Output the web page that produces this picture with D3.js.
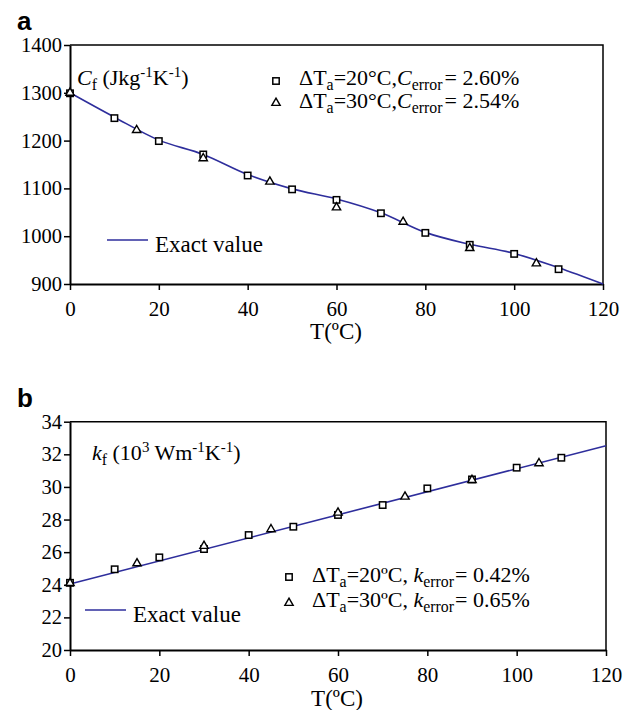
<!DOCTYPE html>
<html><head><meta charset="utf-8">
<script src="https://cdn.jsdelivr.net/npm/d3@7"></script>
<style>body{margin:0;background:#fff}svg{display:block}</style>
</head><body>
<script>
// ---------- data ----------
const xTicks = [0, 20, 40, 60, 80, 100, 120];
const cfTicks = [900, 1000, 1100, 1200, 1300, 1400];
const kfTicks = [20, 22, 24, 26, 28, 30, 32, 34];

// panel a : specific heat
const exactTA = [0, 10, 20, 30, 40, 50, 60, 70, 80, 90, 100, 110, 120];
const exactCf = [1300, 1249, 1201, 1171, 1129, 1099, 1078, 1049, 1008, 983, 964, 934, 900];
const sqTA = [0, 10, 20, 30, 40, 50, 60, 70, 80, 90, 100, 110];
const sqCf = [1299, 1247, 1199, 1171, 1127, 1098, 1076, 1048, 1007, 982, 963, 931];
const triTA = [0, 15, 30, 45, 60, 75, 90, 105];
const triCf = [1300, 1222, 1163, 1114, 1060, 1030, 975, 943];

// panel b : thermal conductivity
const exactTB = [0, 120];
const exactKf = [24.05, 32.53];
const sqTB = [0, 10, 20, 30, 40, 50, 60, 70, 80, 90, 100, 110];
const sqKf = [24.12, 24.95, 25.68, 26.19, 27.05, 27.56, 28.28, 28.89, 29.91, 30.46, 31.18, 31.79];
const triTB = [0, 15, 30, 45, 60, 75, 90, 105];
const triKf = [24.1, 25.31, 26.38, 27.4, 28.42, 29.4, 30.42, 31.45];

// ---------- drawing ----------
const W = 639, H = 710;
const SERIF = "'Liberation Serif','Times New Roman',serif";
const LINE = "#2e2e9c";
const svg = d3.select("body").append("svg").attr("width", W).attr("height", H);

function panel(o) {
  const x = d3.scaleLinear().domain([0, 120]).range([o.left, o.right]);
  const y = d3.scaleLinear().domain(o.ydom).range([o.bottom, o.top]);
  const g = svg.append("g");

  g.append("path").attr("d", `M${o.left},${o.top}H${o.right}V${o.bottom}`)
    .attr("fill", "none").attr("stroke", "#000").attr("stroke-width", 1.5);

  const ax = g.append("g").attr("transform", `translate(0,${o.bottom})`)
    .call(d3.axisBottom(x).tickValues(xTicks).tickFormat(d3.format("d"))
      .tickSize(6).tickSizeOuter(0).tickPadding(6));
  const ay = g.append("g").attr("transform", `translate(${o.left},0)`)
    .call(d3.axisLeft(y).tickValues(o.yticks).tickFormat(d3.format("d"))
      .tickSize(6).tickSizeOuter(0).tickPadding(2));
  ax.attr("font-family", SERIF).attr("font-size", 21);
  ay.attr("font-family", SERIF).attr("font-size", 20.5);
  [ax, ay].forEach(a => {
    a.select(".domain").attr("stroke-width", 2);
    a.selectAll(".tick line").attr("stroke-width", 1.5);
    a.selectAll("text").attr("fill", "#000");
  });
  ax.selectAll("text").attr("dy", "0.95em");

  const line = d3.line().x(d => x(d[0])).y(d => y(d[1])).curve(d3.curveMonotoneX);
  g.append("path").datum(d3.zip(o.ex, o.ey)).attr("d", line)
    .attr("fill", "none").attr("stroke", LINE).attr("stroke-width", 1.6);

  g.selectAll(".sq").data(d3.zip(o.sx, o.sy)).join("rect")
    .attr("x", d => x(d[0]) - 3.2).attr("y", d => y(d[1]) - 3.2)
    .attr("width", 6.4).attr("height", 6.4)
    .attr("fill", "#fff").attr("stroke", "#000").attr("stroke-width", 1.5);
  const tri = d3.symbol().type(d3.symbolTriangle).size(30);
  g.selectAll(".tr").data(d3.zip(o.tx, o.ty)).join("path")
    .attr("d", tri).attr("transform", d => `translate(${x(d[0])},${y(d[1])})`)
    .attr("fill", "#fff").attr("stroke", "#000").attr("stroke-width", 1.4);

  g.append("text").attr("x", o.titleX).attr("y", o.titleY).attr("text-anchor", "middle")
    .attr("font-family", SERIF).attr("font-size", 23).text("T(ºC)");

  g.append("text").attr("x", 17).attr("y", o.letterY)
    .attr("font-family", "'Liberation Sans',Arial,sans-serif").attr("font-weight", "bold")
    .attr("font-size", 26).text(o.letter);

  g.append("line").attr("x1", o.exLeg[0]).attr("x2", o.exLeg[0] + 41)
    .attr("y1", o.exLeg[1]).attr("y2", o.exLeg[1]).attr("stroke", LINE).attr("stroke-width", 1.6);
  g.append("text").attr("x", o.exLeg[0] + 48).attr("y", o.exLeg[1] + 12)
    .attr("font-family", SERIF).attr("font-size", 23).text("Exact value");

  g.append("rect").attr("x", o.mkX - 3.2).attr("y", o.mkY[0] - 3.2).attr("width", 6.4).attr("height", 6.4)
    .attr("fill", "#fff").attr("stroke", "#000").attr("stroke-width", 1.5);
  g.append("path").attr("d", tri).attr("transform", `translate(${o.mkX},${o.mkY[1]})`)
    .attr("fill", "#fff").attr("stroke", "#000").attr("stroke-width", 1.4);
  return g;
}

function richText(g, xx, yy, parts, size) {
  const t = g.append("text").attr("x", xx).attr("y", yy)
    .attr("font-family", SERIF).attr("font-size", size).attr("fill", "#000");
  let shift = 0;
  parts.forEach(p => {
    const s = t.append("tspan").text(p.t);
    let target = 0;
    if (p.sub) { target = 5; s.attr("font-size", size * 0.72); }
    if (p.sup) { target = -8; s.attr("font-size", size * 0.68); }
    if (target !== shift) { s.attr("dy", target - shift); shift = target; }
    if (p.dx) s.attr("dx", p.dx);
    if (p.i) s.attr("font-style", "italic");
  });
  return t;
}

const gA = panel({
  left: 70, right: 603, top: 45, bottom: 284, ydom: [900, 1400], yticks: cfTicks,
  ex: exactTA, ey: exactCf, sx: sqTA, sy: sqCf, tx: triTA, ty: triCf,
  titleX: 336, titleY: 339, letter: "a", letterY: 30,
  exLeg: [107, 240], mkX: 276, mkY: [81, 103]
});
richText(gA, 77, 85, [{t: "C", i: true}, {t: "f", sub: true}, {t: " (Jkg"}, {t: "-1", sup: true}, {t: "K"}, {t: "-1", sup: true}, {t: ")"}], 22);
richText(gA, 299, 85, [{t: "ΔT"}, {t: "a", sub: true}, {t: "=20°C,"}, {t: "C", i: true}, {t: "error", sub: true}, {t: "= 2.60%", dx: 2}], 22);
richText(gA, 299, 108, [{t: "ΔT"}, {t: "a", sub: true}, {t: "=30°C,"}, {t: "C", i: true}, {t: "error", sub: true}, {t: "= 2.54%", dx: 2}], 22);

const gB = panel({
  left: 70, right: 606, top: 421.7, bottom: 650, ydom: [20, 34], yticks: kfTicks,
  ex: exactTB, ey: exactKf, sx: sqTB, sy: sqKf, tx: triTB, ty: triKf,
  titleX: 337, titleY: 706, letter: "b", letterY: 407,
  exLeg: [85, 610], mkX: 289, mkY: [577, 603]
});
richText(gB, 92, 460, [{t: "k", i: true}, {t: "f", sub: true}, {t: " (10"}, {t: "3", sup: true}, {t: " Wm"}, {t: "-1", sup: true}, {t: "K"}, {t: "-1", sup: true}, {t: ")"}], 22);
richText(gB, 312, 582, [{t: "ΔT"}, {t: "a", sub: true}, {t: "=20ºC, "}, {t: "k", i: true}, {t: "error", sub: true}, {t: "= 0.42%", dx: 1}], 22);
richText(gB, 312, 607, [{t: "ΔT"}, {t: "a", sub: true}, {t: "=30ºC, "}, {t: "k", i: true}, {t: "error", sub: true}, {t: "= 0.65%", dx: 1}], 22);
</script>
</body></html>
